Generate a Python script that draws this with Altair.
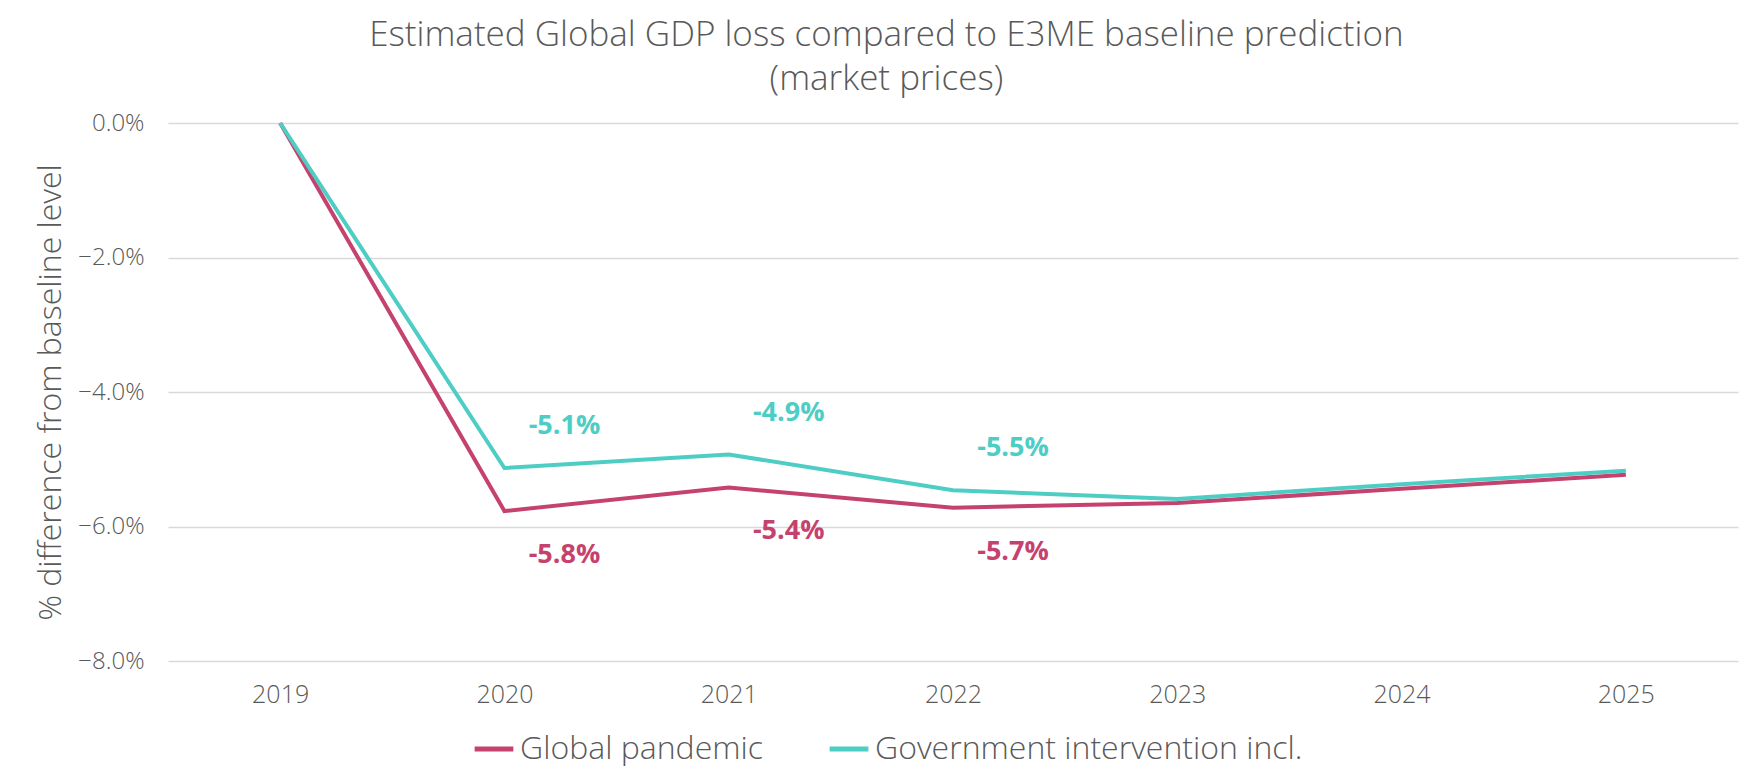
import altair as alt
import pandas as pd

years = ["2019", "2020", "2021", "2022", "2023", "2024", "2025"]
pandemic = [0.0, -5.77, -5.42, -5.72, -5.65, -5.44, -5.23]
intervention = [0.0, -5.13, -4.93, -5.46, -5.59, -5.37, -5.17]
series_names = ["Global pandemic", "Government intervention incl."]
colors = ["#C6426E", "#4ECDC4"]

label_years = ["2020", "2021", "2022"]
pandemic_labels = [-5.8, -5.4, -5.7]
intervention_labels = [-5.1, -4.9, -5.5]

rows = []
for y, a, b in zip(years, pandemic, intervention):
    rows.append({"year": y, "value": a, "series": series_names[0]})
    rows.append({"year": y, "value": b, "series": series_names[1]})
df = pd.DataFrame(rows)

lab_p = pd.DataFrame({"year": label_years, "value": [pandemic[years.index(y)] for y in label_years],
                      "label": pandemic_labels})
lab_i = pd.DataFrame({"year": label_years, "value": [intervention[years.index(y)] for y in label_years],
                      "label": intervention_labels})

FONT = "Open Sans"
GRAY = "#595959"
TXT = "replace(format(datum.label, '.1f'), '\u2212', '-') + '%'"

x = alt.X("year:O", title=None,
          scale=alt.Scale(paddingOuter=0.5, paddingInner=0),
          axis=alt.Axis(labelAngle=0, domain=False, ticks=False, labelPadding=21,
                        labelFontSize=25, labelColor=GRAY, labelFont=FONT, labelFontWeight=300, grid=False))
y = alt.Y("value:Q", title="% difference from baseline level",
          scale=alt.Scale(domain=[-8, 0], nice=False),
          axis=alt.Axis(values=[0, -2, -4, -6, -8], labelExpr="format(datum.value, '.1f') + '%'",
                        domain=False, ticks=False, labelPadding=24, labelFontSize=24, labelColor=GRAY,
                        labelFont=FONT, labelFontWeight=300, gridColor="#D9D9D9", gridWidth=1.3,
                        titleFontSize=32, titleColor=GRAY, titleFont=FONT, titleFontWeight=300,
                        titlePadding=10))

lines = alt.Chart(df).mark_line(strokeWidth=4).encode(
    x=x, y=y,
    color=alt.Color("series:N", title=None,
                    scale=alt.Scale(domain=series_names, range=colors),
                    legend=alt.Legend(orient="none", legendX=304, legendY=604, direction="horizontal",
                                      symbolType="stroke", symbolStrokeWidth=5, symbolSize=1500,
                                      labelFontSize=32, labelColor=GRAY, labelFont=FONT,
                                      labelFontWeight=300, columnPadding=56, labelLimit=700,
                                      labelOffset=4)),
)

text_p = alt.Chart(lab_p).mark_text(font=FONT, fontWeight="bold", fontSize=27, color=colors[0],
                                    dx=60, dy=44, align="center").transform_calculate(
    txt=TXT).encode(x=alt.X("year:O"), y=alt.Y("value:Q"), text="txt:N")

text_i = alt.Chart(lab_i).mark_text(font=FONT, fontWeight="bold", fontSize=27, color=colors[1],
                                    dx=60, dy=-42, align="center").transform_calculate(
    txt=TXT).encode(x=alt.X("year:O"), y=alt.Y("value:Q"), text="txt:N")

chart = alt.layer(lines, text_p, text_i).properties(
    width=1570, height=538,
    padding={"left": 26, "top": 10, "right": 5, "bottom": 5},
    title=alt.TitleParams(["Estimated Global GDP loss compared to E3ME baseline prediction", "(market prices)"],
                          fontSize=35, color=GRAY, font=FONT, fontWeight=300, anchor="middle",
                          frame="bounds", offset=14, lineHeight=44),
).configure(background="white").configure_view(strokeWidth=0)

chart.save("out.html", embed_options={"renderer": "svg", "actions": False})
